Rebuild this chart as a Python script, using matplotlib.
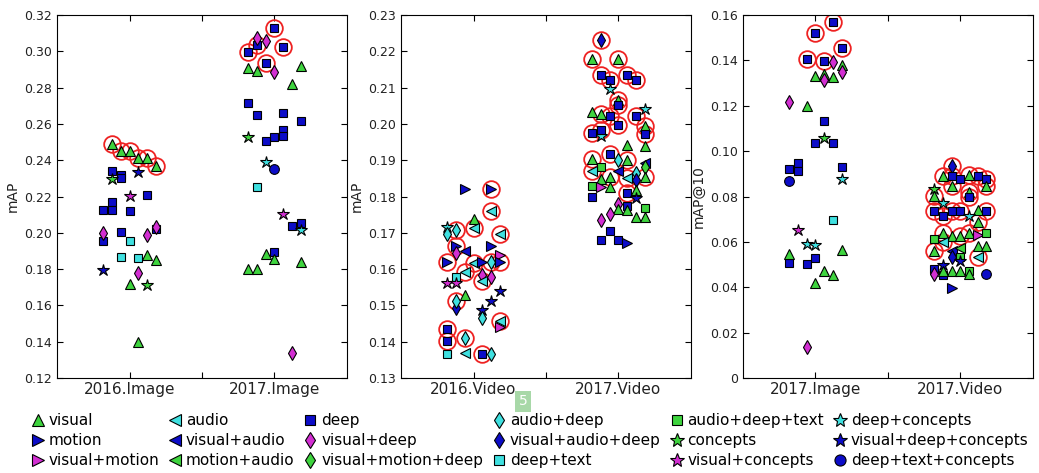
import matplotlib
matplotlib.use("Agg")
import matplotlib.pyplot as plt
from matplotlib.lines import Line2D

# method names, in legend order (column by column)
METHODS = [
    "visual", "motion", "visual+motion",
    "audio", "visual+audio", "motion+audio",
    "deep", "visual+deep", "visual+motion+deep",
    "audio+deep", "visual+audio+deep", "deep+text",
    "audio+deep+text", "concepts", "visual+concepts",
    "deep+concepts", "visual+deep+concepts", "deep+text+concepts",
]

# each run: (method, run slot -3..3, score, best-run flag)
IMAGE_2016 = [
    ("visual", -2, 0.249, 1), ("visual", -1, 0.245, 1), ("visual", 0, 0.245, 1),
    ("visual", 1, 0.241, 1), ("visual", 2, 0.241, 1), ("visual", 3, 0.237, 1),
    ("visual", 0, 0.172, 0), ("visual", 2, 0.188, 0), ("visual", 3, 0.185, 0),
    ("visual", 1, 0.140, 0),
    ("deep", -2, 0.234, 0), ("deep", -2, 0.217, 0), ("deep", -2, 0.2126, 0),
    ("deep", -3, 0.2126, 0), ("deep", -3, 0.1957, 0), ("deep", -1, 0.232, 0),
    ("deep", -1, 0.230, 0), ("deep", 0, 0.212, 0), ("deep", -1, 0.2003, 0),
    ("deep", 2, 0.221, 0), ("deep", 3, 0.202, 0),
    ("concepts", -2, 0.2296, 0), ("concepts", 2, 0.1713, 0),
    ("visual+deep+concepts", -3, 0.1795, 0), ("visual+deep+concepts", 1, 0.2337, 0),
    ("visual+concepts", 0, 0.2204, 0),
    ("visual+deep", -3, 0.1997, 0), ("visual+deep", 2, 0.1988, 0),
    ("visual+deep", 3, 0.2034, 0), ("visual+deep", 1, 0.1777, 0),
    ("deep+text", -1, 0.1868, 0), ("deep+text", 0, 0.1957, 0), ("deep+text", 1, 0.1863, 0),
]

IMAGE_2017 = [
    ("deep", 0, 0.3127, 1), ("deep", -3, 0.2998, 1), ("deep", -2, 0.3035, 1),
    ("deep", 1, 0.3026, 1), ("deep", -1, 0.2934, 1),
    ("visual+deep", -2, 0.3075, 0), ("visual+deep", -1, 0.3057, 0), ("visual+deep", 0, 0.2888, 0),
    ("visual", -3, 0.2906, 0), ("visual", -2, 0.2891, 0), ("visual", 3, 0.292, 0),
    ("visual", 2, 0.2818, 0),
    ("deep", -3, 0.2713, 0), ("deep", -2, 0.2649, 0), ("deep", 1, 0.2658, 0),
    ("deep", 3, 0.2618, 0), ("deep", 1, 0.2566, 0), ("deep", 1, 0.2535, 0),
    ("deep", 0, 0.2526, 0), ("deep", -1, 0.2506, 0),
    ("concepts", -3, 0.253, 0), ("deep+concepts", -1, 0.2392, 0),
    ("deep+text+concepts", 0, 0.235, 0), ("deep+text", -2, 0.225, 0),
    ("visual+concepts", 1, 0.2104, 0),
    ("deep", 2, 0.2037, 0), ("deep", 3, 0.2052, 0), ("deep+concepts", 3, 0.2015, 0),
    ("visual", -1, 0.1881, 0), ("deep", 0, 0.1892, 0), ("visual", 0, 0.1856, 0),
    ("visual", 3, 0.1837, 0), ("visual", -3, 0.180, 0), ("visual", -2, 0.180, 0),
    ("visual+deep", 2, 0.1336, 0),
]

VIDEO_2016 = [
    ("motion", -1, 0.182, 0), ("motion", 2, 0.182, 1),
    ("audio", 2, 0.176, 1), ("visual", 0, 0.1737, 0), ("audio", 0, 0.1714, 1),
    ("deep+concepts", -3, 0.1716, 0), ("audio+deep", -3, 0.1696, 0),
    ("audio+deep", -2, 0.1709, 1), ("audio", 3, 0.1696, 1),
    ("motion", -2, 0.1663, 1), ("visual+deep", -2, 0.1645, 0),
    ("visual+audio", -1, 0.1651, 0), ("motion", 2, 0.1663, 0),
    ("motion", -3, 0.162, 1), ("audio", 0, 0.1617, 1), ("motion", 1, 0.162, 0),
    ("visual+motion", 3, 0.1639, 0), ("audio+deep", 2, 0.162, 1), ("motion", 3, 0.162, 1),
    ("deep+text", -2, 0.1578, 0), ("visual+concepts", -3, 0.1562, 0),
    ("visual+concepts", -2, 0.1562, 0), ("audio", -1, 0.1593, 1),
    ("visual+deep", 1, 0.1584, 0), ("audio", 1, 0.1566, 1), ("visual+deep", 2, 0.1578, 0),
    ("visual+deep+concepts", 3, 0.1541, 0), ("visual+deep+concepts", 2, 0.1513, 0),
    ("visual+deep+concepts", 1, 0.1486, 0),
    ("visual", -1, 0.1528, 0), ("visual+audio+deep", -2, 0.1493, 0),
    ("audio+deep", -2, 0.1513, 1), ("audio+deep", 1, 0.1466, 0),
    ("visual+motion", 3, 0.144, 0), ("audio", 3, 0.1456, 1),
    ("deep", -3, 0.1436, 1), ("deep", -3, 0.1401, 1), ("audio+deep", -1, 0.141, 1),
    ("deep+text", -3, 0.1366, 0), ("audio", -1, 0.1368, 0),
    ("deep", 1, 0.1366, 1), ("audio+deep", 2, 0.1366, 0),
]

VIDEO_2017 = [
    ("visual+audio+deep", -2, 0.2232, 1),
    ("visual", -3, 0.2179, 1), ("visual", 0, 0.2179, 1),
    ("deep", -2, 0.2134, 1), ("deep", -1, 0.212, 1), ("deep", 1, 0.2134, 1),
    ("deep", 2, 0.212, 1), ("deep+concepts", -1, 0.2097, 0),
    ("visual", 0, 0.2065, 1), ("deep", 0, 0.2051, 1), ("deep+concepts", 3, 0.2041, 0),
    ("visual", -3, 0.2032, 0), ("visual", -2, 0.2026, 1), ("deep", -1, 0.2023, 1),
    ("deep", 2, 0.2023, 1), ("deep", 0, 0.1996, 1), ("visual", 3, 0.1993, 1),
    ("deep+concepts", -2, 0.1966, 0), ("deep", -3, 0.1974, 1), ("deep", -2, 0.1983, 1),
    ("deep", 3, 0.1971, 1),
    ("visual", 1, 0.1943, 0), ("visual", 3, 0.194, 0), ("deep", -1, 0.1917, 1),
    ("visual", -3, 0.1903, 1), ("audio+deep", 0, 0.190, 0), ("visual", 1, 0.190, 1),
    ("audio+deep+text", -2, 0.1882, 0), ("visual+audio", 3, 0.1891, 0),
    ("visual+motion+deep", 3, 0.1882, 0),
    ("audio", -3, 0.1871, 1), ("visual+audio", 0, 0.1871, 0), ("audio+deep", 2, 0.1864, 0),
    ("visual", -1, 0.1853, 1), ("visual", -2, 0.1848, 0), ("audio", 1, 0.1851, 1),
    ("visual", 3, 0.1853, 1),
    ("audio+deep+text", -3, 0.183, 0), ("visual+motion", -2, 0.1827, 0),
    ("visual+audio+deep", 2, 0.1845, 0), ("visual", -1, 0.1825, 0), ("visual", 2, 0.1818, 0),
    ("deep", -3, 0.1798, 0), ("deep", 1, 0.1811, 1), ("visual+deep+concepts", 2, 0.1795, 0),
    ("visual+deep", 0, 0.178, 0), ("deep", 1, 0.1775, 0),
    ("visual", 0, 0.1765, 0), ("visual", 1, 0.1764, 0), ("audio+deep+text", 3, 0.1767, 0),
    ("visual", 2, 0.1744, 0), ("visual", 3, 0.1744, 0),
    ("visual+deep", -1, 0.1752, 0), ("visual+deep", -2, 0.1735, 0),
    ("deep", -1, 0.1704, 0), ("deep", -2, 0.168, 0), ("deep", 0, 0.168, 0),
    ("motion", 1, 0.1671, 0),
]

IMAGE_2017_AT10 = [
    ("deep", 2, 0.1568, 1), ("deep", 0, 0.1519, 1), ("deep", 3, 0.1453, 1),
    ("deep", -1, 0.1408, 1), ("deep", 1, 0.1396, 1),
    ("visual+deep", 2, 0.1394, 0), ("visual", 3, 0.1379, 0), ("visual+deep", 3, 0.1349, 0),
    ("visual", 0, 0.133, 0), ("visual", 1, 0.1338, 0), ("visual", 2, 0.1327, 0),
    ("visual+deep", 1, 0.1312, 0),
    ("visual+deep", -3, 0.1217, 0), ("visual", -1, 0.1199, 0),
    ("deep", 1, 0.1134, 0), ("concepts", 1, 0.1057, 0),
    ("deep", 0, 0.1035, 0), ("deep", 2, 0.1038, 0),
    ("deep", -2, 0.0947, 0), ("deep", -2, 0.0914, 0), ("deep", -3, 0.0922, 0),
    ("deep", 3, 0.0932, 0), ("deep+concepts", 3, 0.0877, 0),
    ("deep+text+concepts", -3, 0.0867, 0), ("deep+text", 2, 0.0697, 0),
    ("visual+concepts", -2, 0.0652, 0), ("deep+concepts", -1, 0.059, 0),
    ("deep+concepts", 0, 0.0587, 0),
    ("deep", -3, 0.0509, 0), ("visual", -3, 0.0546, 0), ("visual", 3, 0.0565, 0),
    ("deep", 0, 0.0528, 0), ("deep", -1, 0.0501, 0), ("visual", 1, 0.0472, 0),
    ("visual", 2, 0.0453, 0), ("visual", 0, 0.042, 0),
    ("visual+deep", -1, 0.0136, 0),
]

VIDEO_2017_AT10 = [
    ("visual+audio+deep", -1, 0.0936, 1),
    ("visual", -2, 0.0889, 1), ("deep", -1, 0.0889, 1), ("deep", 0, 0.0877, 0),
    ("visual", 1, 0.0895, 1), ("deep", 2, 0.0889, 1), ("deep", 3, 0.0877, 1),
    ("visual", -1, 0.0845, 1), ("visual", 3, 0.0845, 1),
    ("concepts", -3, 0.0833, 0), ("visual", -3, 0.0804, 1),
    ("visual", 1, 0.0819, 1), ("deep", 1, 0.0796, 1), ("deep+concepts", -2, 0.0773, 0),
    ("deep", -3, 0.0735, 1), ("deep", -2, 0.0716, 1), ("deep", -1, 0.0735, 1),
    ("deep", 0, 0.0735, 1), ("visual", 2, 0.0742, 0), ("deep+concepts", 1, 0.0716, 0),
    ("deep", 3, 0.0735, 1), ("visual", 2, 0.0688, 1),
    ("visual", -2, 0.0641, 1), ("visual", -1, 0.0627, 0), ("visual", 0, 0.0627, 1),
    ("visual", 1, 0.064, 1), ("visual+motion", 2, 0.063, 0), ("audio+deep+text", 3, 0.0641, 0),
    ("audio+deep+text", -3, 0.0612, 0), ("audio", -2, 0.060, 1),
    ("visual", -3, 0.0558, 1), ("visual", 2, 0.058, 0), ("visual", 3, 0.0584, 0),
    ("visual+audio", -1, 0.0558, 0), ("motion+audio", 0, 0.0575, 0),
    ("audio", 2, 0.0535, 1), ("visual+audio+deep", -1, 0.0535, 0),
    ("audio+deep+text", 0, 0.0535, 0), ("visual+deep+concepts", 0, 0.0515, 0),
    ("visual+deep+concepts", -2, 0.0496, 0),
    ("deep", -3, 0.0481, 0), ("visual+deep", -3, 0.0459, 0), ("deep", -2, 0.0452, 0),
    ("visual", -1, 0.0473, 0), ("visual", -2, 0.047, 0), ("visual", 0, 0.047, 0),
    ("audio+deep+text", 1, 0.047, 0), ("visual", 1, 0.0457, 0),
    ("deep+text+concepts", 3, 0.0457, 0), ("motion", -1, 0.0398, 0),
]

PANEL_GROUPS = [
    (["2016.Image", "2017.Image"], [IMAGE_2016, IMAGE_2017]),
    (["2016.Video", "2017.Video"], [VIDEO_2016, VIDEO_2017]),
    (["2017.Image", "2017.Video"], [IMAGE_2017_AT10, VIDEO_2017_AT10]),
]
PANEL_YLABELS = ["mAP", "mAP", "mAP@10"]
PANEL_YTICKS = [
    [0.12, 0.14, 0.16, 0.18, 0.20, 0.22, 0.24, 0.26, 0.28, 0.30, 0.32],
    [0.13, 0.14, 0.15, 0.16, 0.17, 0.18, 0.19, 0.20, 0.21, 0.22, 0.23],
    [0, 0.02, 0.04, 0.06, 0.08, 0.10, 0.12, 0.14, 0.16],
]

GREEN = "#3ed43e"
BLUE = "#0c0cc8"
MAGENTA = "#d22ed2"
CYAN = "#3fe0e0"
STYLE = {
    "visual": ("^", GREEN, 7.5), "motion": (">", BLUE, 7.5), "visual+motion": (">", MAGENTA, 7.5),
    "audio": ("<", CYAN, 7.5), "visual+audio": ("<", BLUE, 7.5), "motion+audio": ("<", GREEN, 7.5),
    "deep": ("s", BLUE, 6), "visual+deep": ("d", MAGENTA, 7.5),
    "visual+motion+deep": ("d", GREEN, 7.5), "audio+deep": ("d", CYAN, 7.5),
    "visual+audio+deep": ("d", BLUE, 7.5), "deep+text": ("s", CYAN, 6),
    "audio+deep+text": ("s", GREEN, 6), "concepts": ("*", GREEN, 9),
    "visual+concepts": ("*", MAGENTA, 9), "deep+concepts": ("*", CYAN, 9),
    "visual+deep+concepts": ("*", BLUE, 9), "deep+text+concepts": ("o", BLUE, 7),
}
RUN_STEP = 0.06

fig = plt.figure(figsize=(10.39, 4.73), dpi=100)
lefts = [0.0549, 0.386, 0.7151]
for i, (cats, groups) in enumerate(PANEL_GROUPS):
    ax = fig.add_axes([lefts[i], 0.2008, 0.2790, 0.7675])
    for k, pts in enumerate(groups):
        pos = k + 1
        for name, run, val, best in pts:
            if best:
                ax.plot(pos + run * RUN_STEP, val, "o", ms=12, mfc="none",
                        mec="#ee2222", mew=1.3, zorder=2)
        for name, run, val, best in pts:
            m, c, ms = STYLE[name]
            ax.plot(pos + run * RUN_STEP, val, m, ms=ms, mfc=c, mec="black",
                    mew=0.8, zorder=3)
    ticks = PANEL_YTICKS[i]
    ax.set_ylim(ticks[0], ticks[-1])
    ax.set_yticks(ticks)
    ax.set_yticklabels(["0" if t == 0 else f"{t:.2f}" for t in ticks], fontsize=9)
    ax.set_xlim(0.5, 2.5)
    ax.set_xticks([1, 2])
    ax.set_xticklabels(cats, fontsize=11)
    ax.set_xticks([1.5], minor=True)
    ax.tick_params(which="both", direction="in", top=True, right=True, length=4,
                   width=0.8, colors="black", labelcolor="#222222")
    ax.tick_params(axis="x", pad=3)
    ax.set_ylabel(PANEL_YLABELS[i], fontsize=10, color="#222222", labelpad=3)

handles = []
for name in METHODS:
    m, c, ms = STYLE[name]
    handles.append(Line2D([], [], linestyle="none", marker=m, ms=ms + 1, mfc=c,
                          mec="black", mew=0.8, label=name))
fig.legend(handles=handles, ncol=6, loc="upper left", bbox_to_anchor=(0.020, 0.149),
           frameon=False, fontsize=11, handlelength=0.8, handletextpad=0.3,
           columnspacing=0.65, labelspacing=0.33, borderpad=0.2, numpoints=1)

fig.text(0.5035, 0.152, "5", color="white", fontsize=10, ha="center", va="center",
         bbox=dict(boxstyle="square,pad=0.25", fc="#a8d8a8", ec="none"))

fig.savefig("out.png", dpi=100)
